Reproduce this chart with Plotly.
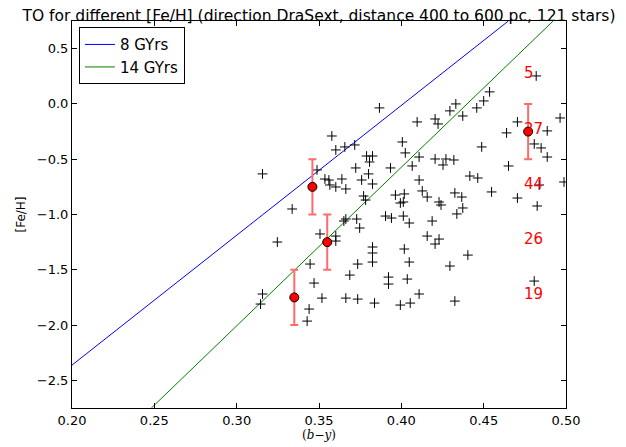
import plotly.graph_objects as go

# Stars: (b-y) colour and [Fe/H]
star_by = [0.3157,0.3578,0.3602,0.3657,0.3717,0.3723,0.3488,0.3536,0.3560,0.3566,
           0.3602,0.3639,0.3663,0.3759,0.3867,0.4331,0.4295,0.4096,0.4205,0.4223,
           0.4006,0.4024,0.3789,0.3825,0.3807,0.4108,0.4205,0.4271,0.4319,0.4253,
           0.3934,0.4066,0.3801,0.3825,0.4108,0.4127,0.4157,0.3964,0.4018,0.4325,
           0.4367,0.3771,0.4819,0.4536,0.4500,0.4458,0.4373,0.4964,0.4705,0.4886,
           0.4639,0.4807,0.4849,0.4886,0.4488,0.4651,0.4416,0.4464,0.4837,0.4988,
           0.4548,0.4705,0.3337,0.3247,0.3506,0.3602,0.3602,0.3663,0.3651,0.3747,
           0.3729,0.3446,0.3687,0.3735,0.3470,0.3518,0.3663,0.3735,0.3157,0.3145,
           0.3440,0.3428,0.3783,0.4012,0.3994,0.4229,0.4241,0.4373,0.4337,0.3904,
           0.3940,0.4012,0.4048,0.4187,0.4157,0.4229,0.4205,0.3825,0.3825,0.3825,
           0.4018,0.4048,0.4295,0.3922,0.3922,0.4036,0.4108,0.3837,0.3994,0.4054,
           0.4325,0.4825,0.4404,0.4807]
star_feh = [-0.633,-0.290,-0.416,-0.389,-0.371,-0.579,-0.597,-0.679,-0.688,-0.733,
            -0.751,-0.679,-0.769,-0.688,-0.036,0.000,-0.063,-0.163,-0.136,-0.181,
            -0.344,-0.443,-0.471,-0.471,-0.525,-0.480,-0.498,-0.498,-0.507,-0.552,
            -0.579,-0.561,-0.633,-0.724,-0.688,-0.787,-0.842,-0.824,-0.814,-0.805,
            -0.842,-0.833,0.253,0.109,0.027,-0.036,-0.109,-0.127,-0.163,-0.244,
            -0.262,-0.362,-0.398,-0.480,-0.389,-0.561,-0.652,-0.670,-0.733,-0.706,
            -0.796,-0.851,-0.950,-1.249,-1.176,-1.195,-1.240,-1.041,-1.059,-1.122,
            -1.041,-1.448,-1.548,-1.448,-1.620,-1.756,-1.756,-1.765,-1.719,-1.810,
            -1.855,-1.964,-0.869,-0.887,-0.896,-0.887,-0.914,-0.941,-0.995,-1.014,
            -1.032,-1.014,-1.077,-1.059,-1.195,-1.222,-1.267,-1.294,-1.348,-1.430,
            -1.312,-1.430,-1.466,-1.566,-1.629,-1.584,-1.719,-1.801,-1.819,-1.801,
            -1.783,-0.923,-1.367,-1.602]

# Isochrone turn-off lines
iso8_x = [0.20, 0.465]
iso8_y = [-2.362, 0.75]
iso14_x = [0.2482, 0.4922]
iso14_y = [-2.75, 0.75]

# Turn-off estimates per [Fe/H] bin
to_by = [0.335, 0.355, 0.346, 0.477]
to_feh = [-1.75, -1.25, -0.75, -0.25]
to_err = [0.25, 0.25, 0.25, 0.25]

# Star counts per bin
bin_feh = [0.25, -0.25, -0.75, -1.25, -1.75]
bin_count = ["5", "27", "44", "26", "19"]
count_x = 0.4735

x_ticks = [0.20, 0.25, 0.30, 0.35, 0.40, 0.45, 0.50]
y_ticks = [-2.5, -2.0, -1.5, -1.0, -0.5, 0.0, 0.5]

fig = go.Figure()
fig.add_trace(go.Scatter(x=iso8_x, y=iso8_y, mode="lines", name="8 GYrs",
                         line=dict(color="#0000ff", width=1)))
fig.add_trace(go.Scatter(x=iso14_x, y=iso14_y, mode="lines", name="14 GYrs",
                         line=dict(color="#008000", width=1)))
fig.add_trace(go.Scatter(x=star_by, y=star_feh, mode="markers", showlegend=False,
                         marker=dict(symbol="cross-thin", size=7, color="black",
                                     line=dict(color="black", width=1))))
fig.add_trace(go.Scatter(x=to_by, y=to_feh, mode="markers", showlegend=False,
                         error_y=dict(type="data", array=to_err, color="#ff6b6b",
                                      thickness=2, width=4),
                         marker=dict(symbol="circle", size=9, color="#ff0000",
                                     line=dict(color="black", width=1))))
for yv, t in zip(bin_feh, bin_count):
    fig.add_annotation(x=count_x, y=yv, text=t, showarrow=False, xanchor="left",
                       yanchor="middle", yshift=3,
                       font=dict(color="#ff0000", size=15, family="DejaVu Sans"))

# Browser body margin of 8px offsets the figure; margins compensate.
fig.update_layout(
    width=626, height=447,
    margin=dict(l=60, r=68, t=13, b=47),
    paper_bgcolor="white", plot_bgcolor="white",
    font=dict(family="DejaVu Sans", size=13, color="black"),
    title=dict(text="TO for different [Fe/H] (direction DraSext, distance 400 to 600 pc, 121 stars)",
               x=0.5, xref="paper", xanchor="center", y=0.995, yanchor="top",
               font=dict(size=15.5, family="DejaVu Sans")),
    legend=dict(x=0.014, y=0.984, xanchor="left", yanchor="top",
                bordercolor="black", borderwidth=1, bgcolor="white",
                font=dict(size=15, family="DejaVu Sans")),
    showlegend=True,
)
fig.update_xaxes(range=[0.20, 0.50], tickvals=x_ticks,
                 ticktext=[f"{v:.2f}" for v in x_ticks],
                 showgrid=False, zeroline=False, showline=True, linecolor="black",
                 linewidth=1, mirror="allticks", ticks="inside", ticklen=5,
                 tickcolor="black",
                 title=dict(text="(<i>b</i>−<i>y</i>)", standoff=4,
                            font=dict(family="DejaVu Serif", size=12)))
fig.update_yaxes(range=[-2.75, 0.75], tickvals=y_ticks,
                 ticktext=[f"{v:.1f}".replace("-", "−") for v in y_ticks],
                 showgrid=False, zeroline=False, showline=True, linecolor="black",
                 linewidth=1, mirror="allticks", ticks="inside", ticklen=5,
                 tickcolor="black",
                 title=dict(text="[Fe/H]", standoff=8, font=dict(size=12)))

fig.write_html("out.html")
